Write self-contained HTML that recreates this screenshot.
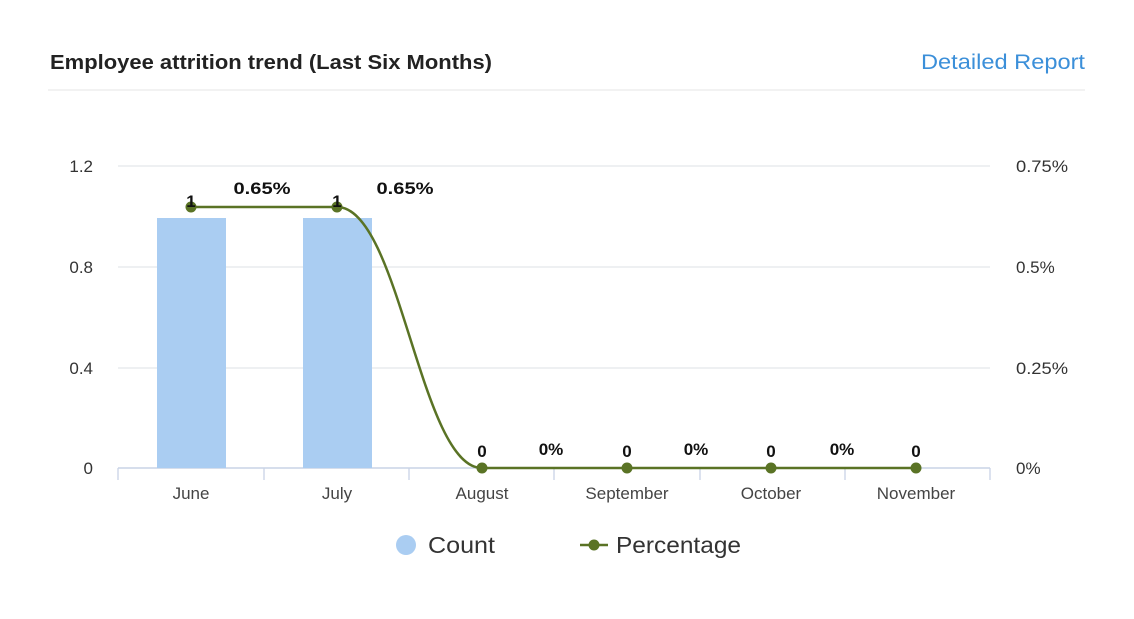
<!DOCTYPE html>
<html><head><meta charset="utf-8"><style>
body{margin:0;background:#fff;width:1134px;height:614px;overflow:hidden;font-family:"Liberation Sans",sans-serif;}
</style></head><body>
<svg width="1134" height="614" xmlns="http://www.w3.org/2000/svg" font-family="Liberation Sans, sans-serif">
<text x="50" y="69" font-size="20" font-weight="bold" fill="#222" textLength="442" lengthAdjust="spacingAndGlyphs">Employee attrition trend (Last Six Months)</text>
<text x="921" y="69" font-size="21" fill="#3b8fd9" textLength="164" lengthAdjust="spacingAndGlyphs">Detailed Report</text>
<line x1="48" y1="90" x2="1085" y2="90" stroke="#eee" stroke-width="1.5"/>
<g stroke="#e4e6ea" stroke-width="1.3">
<line x1="118" y1="166" x2="990" y2="166"/><line x1="118" y1="267" x2="990" y2="267"/><line x1="118" y1="368" x2="990" y2="368"/>
</g>
<line x1="118" y1="468" x2="990" y2="468" stroke="#c9d3e6" stroke-width="1.5"/>
<g stroke="#c9d3e6" stroke-width="1.3">
<line x1="118" y1="468" x2="118" y2="480"/><line x1="264" y1="468" x2="264" y2="480"/><line x1="409" y1="468" x2="409" y2="480"/><line x1="554" y1="468" x2="554" y2="480"/><line x1="700" y1="468" x2="700" y2="480"/><line x1="845" y1="468" x2="845" y2="480"/><line x1="990" y1="468" x2="990" y2="480"/>
</g>
<g font-size="17" fill="#333" text-anchor="end">
<text x="93" y="172">1.2</text><text x="93" y="273">0.8</text><text x="93" y="374">0.4</text><text x="93" y="474">0</text>
</g>
<g font-size="17" fill="#333">
<text x="1016" y="172" textLength="52" lengthAdjust="spacingAndGlyphs">0.75%</text><text x="1016" y="273">0.5%</text><text x="1016" y="374" textLength="52" lengthAdjust="spacingAndGlyphs">0.25%</text><text x="1016" y="474">0%</text>
</g>
<g font-size="17" fill="#444" text-anchor="middle">
<text x="191" y="499">June</text><text x="337" y="499">July</text><text x="482" y="499">August</text><text x="627" y="499">September</text><text x="771" y="499">October</text><text x="916" y="499">November</text>
</g>
<rect x="157" y="218" width="69" height="250" fill="#aacdf2"/>
<rect x="303" y="218" width="69" height="250" fill="#aacdf2"/>
<path d="M191,207 L337,207 C400,207 420,468 482,468 L916,468" fill="none" stroke="#5a7325" stroke-width="2.5"/>
<g fill="#5a7325"><circle cx="191" cy="207" r="5.5"/><circle cx="337" cy="207" r="5.5"/><circle cx="482" cy="468" r="5.5"/><circle cx="627" cy="468" r="5.5"/><circle cx="771" cy="468" r="5.5"/><circle cx="916" cy="468" r="5.5"/></g>
<g font-size="17" font-weight="bold" fill="#111" text-anchor="middle">
<text x="191" y="207">1</text><text x="337" y="207">1</text>
<text x="482" y="457">0</text><text x="627" y="457">0</text><text x="771" y="457">0</text><text x="916" y="457">0</text>
<text x="262" y="194" textLength="57" lengthAdjust="spacingAndGlyphs">0.65%</text><text x="405" y="194" textLength="57" lengthAdjust="spacingAndGlyphs">0.65%</text>
<text x="551" y="455">0%</text><text x="696" y="455">0%</text><text x="842" y="455">0%</text>
</g>
<circle cx="406" cy="545" r="10" fill="#aacdf2"/>
<text x="428" y="553" font-size="23" fill="#333" textLength="67" lengthAdjust="spacingAndGlyphs">Count</text>
<line x1="580" y1="545" x2="608" y2="545" stroke="#5a7325" stroke-width="2.5"/>
<circle cx="594" cy="545" r="5.5" fill="#5a7325"/>
<text x="616" y="553" font-size="23" fill="#333" textLength="125" lengthAdjust="spacingAndGlyphs">Percentage</text>
</svg>
</body></html>
